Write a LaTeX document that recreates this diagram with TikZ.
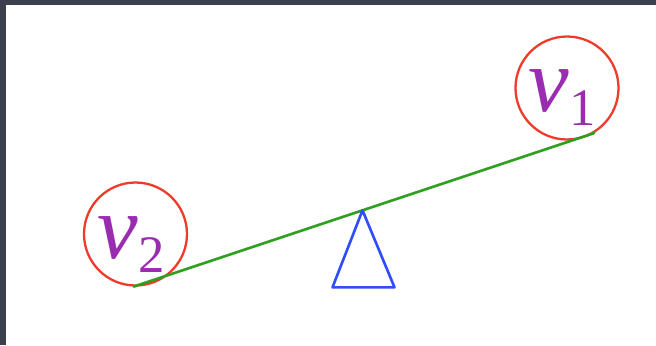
\documentclass[tikz,border=0pt]{standalone}
\usepackage{fontspec}
\setmainfont{Liberation Serif}
\usepackage{tikz}
\usetikzlibrary{calc,positioning}
\definecolor{FrameSlate}{HTML}{3C404D}
\definecolor{MassRed}{HTML}{F03A2A}
\definecolor{LabelPurple}{HTML}{9A2CB0}
\definecolor{BeamGreen}{HTML}{2E9E1E}
\definecolor{PivotBlue}{HTML}{2F4CFF}
\newcommand{\masslabel}[1]{%
  {\fontsize{52}{60}\selectfont\itshape ν\upshape\raisebox{-8pt}{\fontsize{30}{32}\selectfont #1}}}

\begin{document}
\begin{tikzpicture}[x=0.02cm,y=-0.02cm,line cap=round,line join=round,
    mass/.style={circle,draw=MassRed,line width=1.3pt,minimum size=2.06cm,inner sep=0pt},
    masstext/.style={text=LabelPurple,inner sep=0pt},
    beam/.style={BeamGreen,line width=1.5pt},
    fulcrum/.style={draw=PivotBlue,line width=1.5pt}]
        \useasboundingbox (0,0) rectangle (656,345);
        \fill[FrameSlate] (0,0) rectangle (656,345);
        \fill[white] (6,5) rectangle (656,345);
        % the two weights
        \node[mass] (v1) at (567,88) {};
        \node[mass] (v2) at (135.5,234) {};
        \node[masstext] (v1txt) at (562,98) {\masslabel{1}};
        \node[masstext] (v2txt) at (131,245) {\masslabel{2}};
        % beam resting on the pivot
        \draw[beam] (v2.-92) -- coordinate[pos=0.497] (pivot) (v1.-59);
        \draw[fulcrum] (pivot) -- ++(-30,77) -- ++(62,0) -- cycle;
      \end{tikzpicture}
\end{document}
